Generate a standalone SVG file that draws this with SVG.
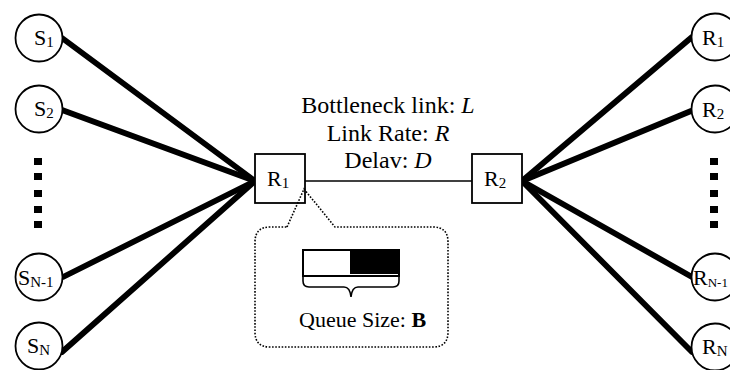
<svg xmlns="http://www.w3.org/2000/svg" width="730" height="370" viewBox="0 0 730 370">
<style>
.thick{stroke:#000;stroke-width:5.8;stroke-linecap:round;fill:none}
.thin{stroke:#000;stroke-width:1.6;fill:none}
.circ{fill:#fff;stroke:#000;stroke-width:1.8}
.box{fill:#fff;stroke:#000;stroke-width:1.8}
.dot{stroke:#000;stroke-width:1.6;stroke-dasharray:1.6 1.6;fill:none}
text{font-family:"Liberation Serif","Times New Roman",serif;fill:#000}
.lbl{font-size:22px}
.sub{font-size:15px}
.big{font-size:24px}
</style>
<rect width="730" height="370" fill="#fff"/>
<g id="connectors">
<line class="thick" x1="62" y1="38" x2="255" y2="181"/>
<line class="thick" x1="62" y1="110" x2="255" y2="181"/>
<line class="thick" x1="63" y1="277" x2="255" y2="181"/>
<line class="thick" x1="62" y1="352" x2="255" y2="181"/>
<line class="thin" x1="305" y1="181" x2="472" y2="181"/>
<line class="thick" x1="522" y1="181" x2="692" y2="37"/>
<line class="thick" x1="522" y1="181" x2="691" y2="111"/>
<line class="thick" x1="522" y1="181" x2="692" y2="277"/>
<line class="thick" x1="522" y1="181" x2="692" y2="352"/>
</g>
<g id="S1"><circle class="circ" cx="39" cy="38" r="23.5"/><text class="lbl" x="34" y="45">S<tspan class="sub" dy="2">1</tspan></text></g>
<g id="S2"><circle class="circ" cx="39" cy="109" r="23.5"/><text class="lbl" x="34" y="116">S<tspan class="sub" dy="2">2</tspan></text></g>
<g id="Sdots" fill="#000"><rect x="34" y="158" width="8" height="7"/><rect x="34" y="173" width="8" height="7"/><rect x="34" y="190" width="8" height="7"/><rect x="34" y="206" width="8" height="7"/><rect x="34" y="221" width="8" height="7"/></g>
<g id="SN1"><circle class="circ" cx="39" cy="277" r="23.5"/><text class="lbl" x="18" y="285">S<tspan class="sub" dy="2">N-1</tspan></text></g>
<g id="SN"><circle class="circ" cx="39" cy="346" r="23.5"/><text class="lbl" x="27" y="353">S<tspan class="sub" dy="2">N</tspan></text></g>
<g id="Router1"><rect class="box" x="255" y="154" width="50" height="49"/><text class="lbl" x="267" y="186">R<tspan class="sub" dy="2">1</tspan></text></g>
<g id="Router2"><rect class="box" x="472" y="154" width="50" height="49"/><text class="lbl" x="484" y="186">R<tspan class="sub" dy="2">2</tspan></text></g>
<g id="link-label">
<text class="big" x="388" y="113" text-anchor="middle">Bottleneck link: <tspan font-style="italic">L</tspan></text>
<text class="big" x="388" y="141" text-anchor="middle">Link Rate: <tspan font-style="italic">R</tspan></text>
<text class="big" x="388" y="168" text-anchor="middle">Delav: <tspan font-style="italic">D</tspan></text>
</g>
<g id="R1"><circle class="circ" cx="715" cy="37" r="23.5"/><text class="lbl" x="702" y="45">R<tspan class="sub" dy="2">1</tspan></text></g>
<g id="R2"><circle class="circ" cx="715" cy="109" r="23.5"/><text class="lbl" x="702" y="117">R<tspan class="sub" dy="2">2</tspan></text></g>
<g id="Rdots" fill="#000"><rect x="710" y="158" width="8" height="7"/><rect x="710" y="173" width="8" height="7"/><rect x="710" y="190" width="8" height="7"/><rect x="710" y="206" width="8" height="7"/><rect x="710" y="221" width="8" height="7"/></g>
<g id="RN1"><circle class="circ" cx="715" cy="277" r="23.5"/><text class="lbl" x="693" y="285">R<tspan font-size="13" dy="2">N-1</tspan></text></g>
<g id="RN"><circle class="circ" cx="715" cy="347" r="23.5"/><text class="lbl" x="702" y="354">R<tspan class="sub" dy="2">N</tspan></text></g>
<g id="queue-callout">
<path class="dot" d="M287,227 L304,189 L335,227 L433,227 Q448,227 448,242 L448,332 Q448,347 433,347 L270,347 Q255,347 255,332 L255,242 Q255,227 270,227 Z"/>
<rect x="303" y="250" width="96" height="26" fill="#fff" stroke="#000" stroke-width="2"/>
<rect x="350" y="250" width="49" height="24" fill="#000"/>
<path class="thin" d="M303,276 L303,281 Q303,287 309,287 L344,287 Q350,287 351,297 Q352,287 358,287 L393,287 Q399,287 399,281 L399,276"/>
<text x="299" y="327" font-size="22">Queue Size:  <tspan font-weight="bold">B</tspan></text>
</g>
</svg>
